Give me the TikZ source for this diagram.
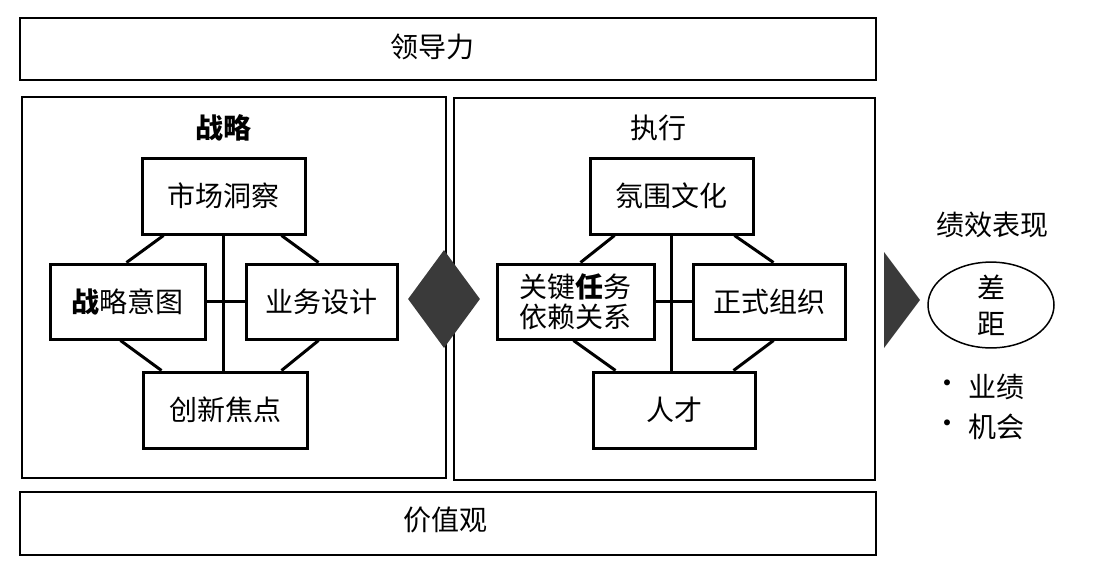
\documentclass[tikz,border=0pt]{standalone}
\usepackage{fontspec}
\setmainfont{Noto Sans CJK SC}
\usetikzlibrary{shapes.geometric}
\definecolor{dark}{RGB}{58,58,58}
\begin{document}
\begin{tikzpicture}[x=1pt,y=-1pt,
  outer/.style={draw, line width=2pt, inner sep=0pt},
  inbox/.style={draw, line width=3pt, fill=white, align=center, inner sep=0pt,
     font=\fontsize{28}{30}\selectfont},
  link/.style={line width=3pt},
  label/.style={inner sep=0pt, font=\fontsize{28}{30}\selectfont, align=center}
]
\useasboundingbox (0,0) rectangle (1105,582);

% outer frames
\node[outer, minimum width=856pt, minimum height=62pt] (lead) at (448,49) {};
\node[label] (leadt) at (432,47) {领导力};
\node[outer, minimum width=424pt, minimum height=381pt] (strat) at (234,287.5) {};
\node[outer, minimum width=421pt, minimum height=382pt] (exec) at (664.5,289) {};
\node[outer, minimum width=856pt, minimum height=63pt] (vals) at (448,523.5) {};
\node[label] (valst) at (445,520) {价值观};

\node[label, font=\fontsize{28}{30}\selectfont\bfseries] (stitle) at (223,128) {战略};
\node[label] (etitle) at (658,128) {执行};

% strategy boxes
\node[inbox, minimum width=163pt, minimum height=76pt] (mi) at (223.5,196) {市场洞察};
\node[inbox, minimum width=155pt, minimum height=75pt] (si) at (127.5,301.5) {{\bfseries 战}略意图};
\node[inbox, minimum width=151pt, minimum height=75pt] (bd) at (321.5,301.5) {业务设计};
\node[inbox, minimum width=164pt, minimum height=76pt] (ix) at (225,410) {创新焦点};

\draw[link] (mi.south) -- (mi.south |- ix.north);
\draw[link] (si.east) -- (bd.west);
\draw[link] ([xshift=23pt]mi.south west) -- ([xshift=78pt]si.north west);
\draw[link] ([xshift=-25pt]mi.south east) -- ([xshift=-80pt]bd.north east);
\draw[link] ([xshift=72pt]si.south west) -- ([xshift=20pt]ix.north west);
\draw[link] ([xshift=-80pt]bd.south east) -- ([xshift=-27pt]ix.north east);

% execution boxes
\node[inbox, minimum width=163pt, minimum height=76pt] (ac) at (671.5,196) {氛围文化};
\node[inbox, minimum width=157pt, minimum height=75pt] (kt) at (575.5,301.5) {关键{\bfseries 任}务\\依赖关系};
\node[inbox, minimum width=152pt, minimum height=75pt] (fo) at (769,301.5) {正式组织};
\node[inbox, minimum width=162pt, minimum height=76pt] (tl) at (674,410) {人才};

\draw[link] (ac.south) -- (ac.south |- tl.north);
\draw[link] (kt.east) -- (fo.west);
\draw[link] ([xshift=26pt]ac.south west) -- ([xshift=85pt]kt.north west);
\draw[link] ([xshift=-20pt]ac.south east) -- ([xshift=-73pt]fo.north east);
\draw[link] ([xshift=78pt]kt.south west) -- ([xshift=24pt]tl.north west);
\draw[link] ([xshift=-73pt]fo.south east) -- ([xshift=-23pt]tl.north east);

% connectors between stages
\node[diamond, fill=dark, minimum width=72pt, minimum height=98pt, inner sep=0pt, aspect=0.73] (dm) at (444,299) {};
\fill[dark] (884,252) -- (920,300) -- (884,348) -- cycle;

% performance
\node[label] (ptitle) at (992,225) {绩效表现};
\node[ellipse, draw, line width=1.5pt, minimum width=126pt, minimum height=77pt, inner sep=0pt,
      align=center, font=\fontsize{28}{36}\selectfont] (gap) at (991,305) {差\\距};
\node[label] (b1) at (947,387) {·};
\node[label, anchor=west] (t1) at (968,387) {业绩};
\node[label] (b2) at (947,427) {·};
\node[label, anchor=west] (t2) at (968,427) {机会};
\end{tikzpicture}
\end{document}
